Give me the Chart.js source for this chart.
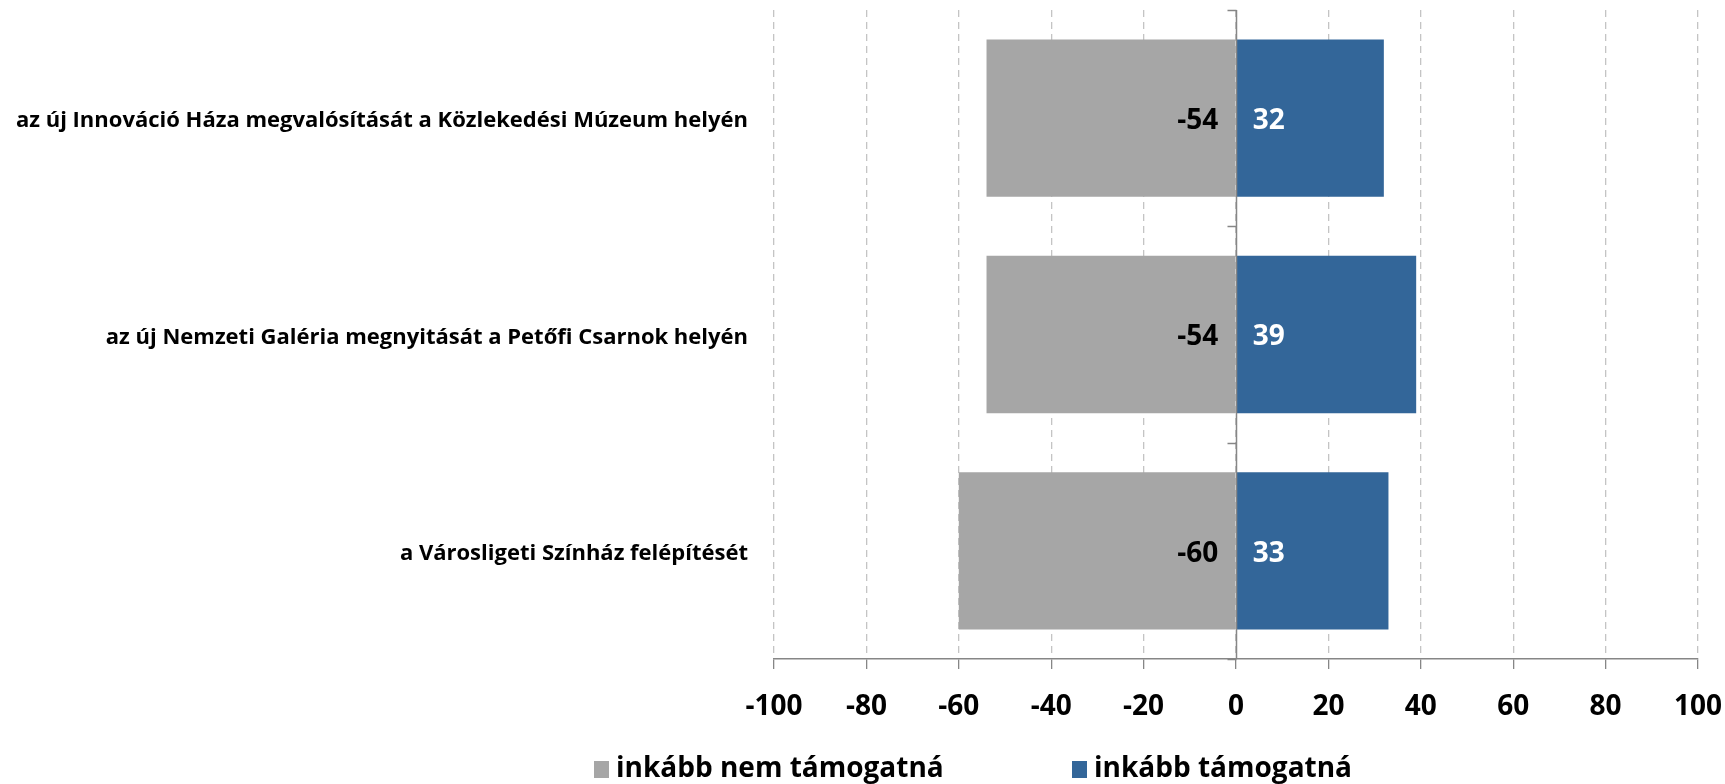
<!DOCTYPE html>
<html>
<head>
<meta charset="utf-8">
<script src="https://cdn.jsdelivr.net/npm/chart.js@4.4.0/dist/chart.umd.min.js"></script>
<style>
    html, body { margin: 0; padding: 0; background: #fff; }
    #wrap { width: 1725px; height: 784px; position: relative; }
</style>
</head>
<body>
<div id="wrap"><canvas id="chart"></canvas></div>
<script>
// Adatok
const categories = [
    "az új Innováció Háza megvalósítását a Közlekedési Múzeum helyén",
    "az új Nemzeti Galéria megnyitását a Petőfi Csarnok helyén",
    "a Városligeti Színház felépítését"
];
const notSupport = [-54, -54, -60];
const support = [32, 39, 33];
const seriesNames = ["inkább nem támogatná", "inkább támogatná"];
const xMin = -100, xMax = 100, xStep = 20;

const FONT = "'Open Sans', sans-serif";
const GRAY = '#a6a6a6';
const BLUE = '#336699';
const AXIS = '#868686';

// Nulla tengely + kategória osztások
const zeroAxis = {
    id: 'zeroAxis',
    afterDatasetsDraw(chart) {
        const { ctx, chartArea } = chart;
        const x0 = Math.round(chart.scales.x.getPixelForValue(0)) + 0.5;
        ctx.save();
        ctx.strokeStyle = AXIS;
        ctx.lineWidth = 1.5;
        ctx.beginPath();
        ctx.moveTo(x0, chartArea.top);
        ctx.lineTo(x0, chartArea.bottom);
        const step = (chartArea.bottom - chartArea.top) / categories.length;
        for (let i = 0; i <= categories.length; i++) {
            const y = Math.round(chartArea.top + i * step) + 0.5;
            ctx.moveTo(x0 - 9, y);
            ctx.lineTo(x0, y);
        }
        ctx.stroke();
        ctx.restore();
    }
};

// Értékcímkék a sávok tövénél
const valueLabels = {
    id: 'valueLabels',
    afterDatasetsDraw(chart) {
        const ctx = chart.ctx;
        ctx.save();
        ctx.font = 'bold 28px ' + FONT;
        ctx.textBaseline = 'middle';
        chart.data.datasets.forEach((ds, i) => {
            chart.getDatasetMeta(i).data.forEach((bar, j) => {
                const v = ds.data[j];
                const neg = v < 0;
                ctx.fillStyle = neg ? '#000' : '#fff';
                ctx.textAlign = neg ? 'right' : 'left';
                ctx.fillText(String(v), bar.base + (neg ? -17 : 16), bar.y + 3);
            });
        });
        ctx.restore();
    }
};

// Jelmagyarázat (Excel-szerű elrendezés)
const legendPositions = [594, 1072];
const bottomLegend = {
    id: 'bottomLegend',
    afterDraw(chart) {
        const ctx = chart.ctx;
        const y = 769;
        ctx.save();
        ctx.font = 'bold 28px ' + FONT;
        ctx.textBaseline = 'middle';
        ctx.textAlign = 'left';
        chart.data.datasets.forEach((ds, i) => {
            const x = legendPositions[i];
            ctx.fillStyle = ds.backgroundColor;
            ctx.fillRect(x, y - 8, 15, 17);
            ctx.fillStyle = '#000';
            ctx.fillText(ds.label, x + 22, y);
        });
        ctx.restore();
    }
};

new Chart(document.getElementById('chart'), {
    type: 'bar',
    data: {
        labels: categories,
        datasets: [
            { label: seriesNames[0], data: notSupport, backgroundColor: GRAY },
            { label: seriesNames[1], data: support, backgroundColor: BLUE }
        ]
    },
    options: {
        indexAxis: 'y',
        responsive: true,
        maintainAspectRatio: false,
        animation: false,
        barPercentage: 0.727,
        categoryPercentage: 1,
        layout: { padding: { top: 10, right: 27, left: 0, bottom: 0 } },
        plugins: {
            legend: { display: false },
            tooltip: { enabled: false }
        },
        scales: {
            x: {
                stacked: true,
                min: xMin,
                max: xMax,
                ticks: {
                    stepSize: xStep,
                    color: '#000',
                    font: { family: FONT, size: 28, weight: 'bold' },
                    padding: 21
                },
                grid: {
                    color: '#c4c4c4',
                    lineWidth: 1.3,
                    tickLength: 10,
                    tickColor: AXIS,
                    tickWidth: 1.3
                },
                border: { color: AXIS, width: 1.5, dash: [7, 5] },
                afterFit(scale) {
                    scale.height = 125;
                    scale.paddingLeft = 0;
                    scale.paddingRight = 0;
                }
            },
            y: {
                stacked: true,
                ticks: {
                    color: '#000',
                    font: { family: FONT, size: 22, weight: 'bold' },
                    padding: 26,
                    labelOffset: 3
                },
                grid: { display: false, drawTicks: false },
                border: { display: false },
                afterFit(scale) {
                    scale.width = 774;
                    scale.paddingTop = 0;
                    scale.paddingBottom = 0;
                }
            }
        }
    },
    plugins: [zeroAxis, valueLabels, bottomLegend]
});
</script>
</body>
</html>
